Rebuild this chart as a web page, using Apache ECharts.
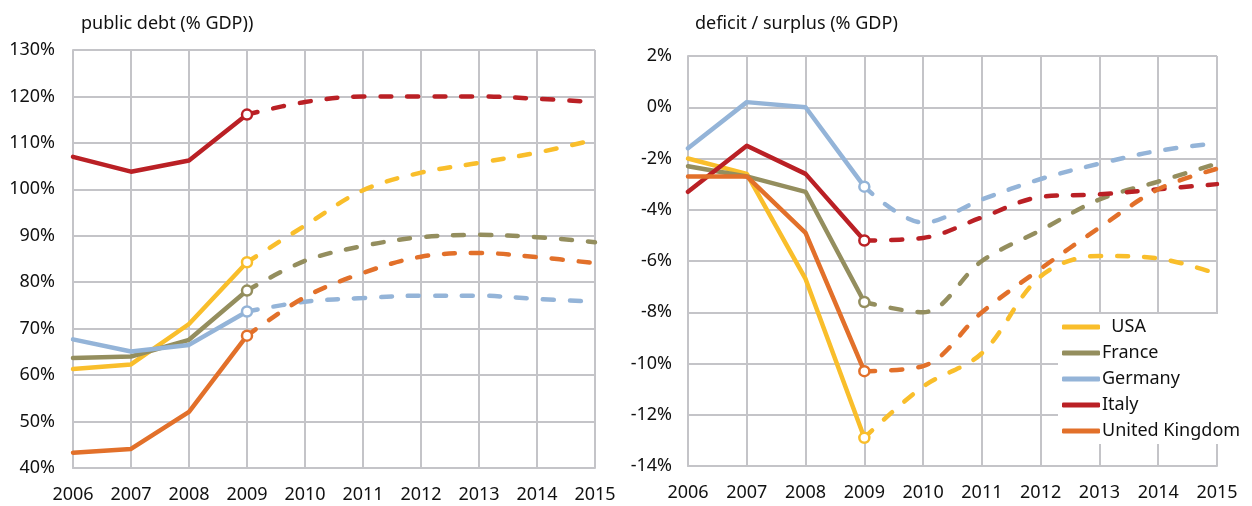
<!DOCTYPE html>
<html>
<head>
<meta charset="utf-8">
<script src="https://cdn.jsdelivr.net/npm/echarts@6/dist/echarts.min.js"></script>
<style>
  html, body { margin: 0; padding: 0; background: #fff; }
  #chart { width: 1252px; height: 506px; }
</style>
</head>
<body>
<div id="chart"></div>
<script>
const years = ["2006", "2007", "2008", "2009", "2010", "2011", "2012", "2013", "2014", "2015"];
const countries = ["USA", "France", "Germany", "Italy", "United Kingdom"];
const colors = ["#F9BE2B", "#948E5E", "#94B4D8", "#BA2025", "#E2702A"];

// public debt, % of GDP
const debtUSA = [61.3, 62.3, 71.0, 84.3, 92.2, 99.8, 103.6, 105.7, 107.9, 110.7];
const debtFrance = [63.7, 64.0, 67.6, 78.2, 84.6, 87.8, 89.7, 90.2, 89.7, 88.6];
const debtGermany = [67.7, 65.1, 66.5, 73.7, 75.8, 76.6, 77.1, 77.1, 76.4, 75.8];
const debtItaly = [107.0, 103.8, 106.2, 116.1, 118.8, 120.0, 120.0, 120.0, 119.5, 118.8];
const debtUK = [43.3, 44.1, 52.1, 68.5, 76.8, 82.0, 85.5, 86.3, 85.4, 84.1];

// deficit / surplus, % of GDP
const balUSA = [-2.0, -2.6, -6.7, -12.9, -10.9, -9.6, -6.6, -5.8, -5.9, -6.5];
const balFrance = [-2.3, -2.7, -3.3, -7.6, -8.0, -6.0, -4.8, -3.6, -2.9, -2.2];
const balGermany = [-1.6, 0.2, 0.0, -3.1, -4.5, -3.6, -2.8, -2.2, -1.7, -1.4];
const balItaly = [-3.3, -1.5, -2.6, -5.2, -5.1, -4.3, -3.5, -3.4, -3.2, -3.0];
const balUK = [-2.7, -2.7, -4.9, -10.3, -10.1, -8.0, -6.3, -4.7, -3.2, -2.4];

const debtData = [debtUSA, debtFrance, debtGermany, debtItaly, debtUK];
const balData = [balUSA, balFrance, balGermany, balItaly, balUK];

const lastActual = 3; // 2009: actual up to here, projection after
const gridColor = "#C4C4C8";
const font = "Noto Sans";

function makeSeries(values, idx, axisIdx) {
  const c = colors[idx];
  const solid = values.map((v, i) => (i <= lastActual ? v : "-"));
  const dashed = values.map((v, i) => {
    if (i < lastActual) return "-";
    if (i === lastActual) {
      return {
        value: v,
        symbol: "circle",
        symbolSize: 10,
        itemStyle: { color: "#fff", borderColor: c, borderWidth: 2.5 },
      };
    }
    return v;
  });
  return [
    {
      name: countries[idx],
      type: "line",
      xAxisIndex: axisIdx,
      yAxisIndex: axisIdx,
      data: solid,
      symbol: "none",
      color: c,
      lineStyle: { width: 4.5, color: c, cap: "round", join: "round" },
      animation: false,
      z: 2,
    },
    {
      name: countries[idx] + " (proj.)",
      type: "line",
      xAxisIndex: axisIdx,
      yAxisIndex: axisIdx,
      data: dashed,
      symbol: "none",
      showSymbol: true,
      smooth: 0.35,
      color: c,
      lineStyle: { width: 4.5, color: c, type: [11, 16], cap: "round" },
      animation: false,
      z: 3,
    },
  ];
}

const series = [];
debtData.forEach((vals, i) => series.push(...makeSeries(vals, i, 0)));
balData.forEach((vals, i) => series.push(...makeSeries(vals, i, 1)));

function xAxisCfg(gridIndex) {
  return {
    type: "category",
    gridIndex: gridIndex,
    data: years,
    boundaryGap: false,
    axisTick: { show: false },
    axisLine: { show: true, onZero: false, lineStyle: { color: gridColor, width: 2 } },
    splitLine: { show: true, lineStyle: { color: gridColor, width: 2 } },
    axisLabel: { color: "#111", fontFamily: font, fontSize: 18, margin: 18 },
  };
}

function yAxisCfg(gridIndex, min, max, interval, margin) {
  return {
    type: "value",
    gridIndex: gridIndex,
    min: min,
    max: max,
    interval: interval,
    axisTick: { show: false },
    axisLine: { show: true, lineStyle: { color: gridColor, width: 2 } },
    splitLine: { show: true, lineStyle: { color: gridColor, width: 2 } },
    axisLabel: {
      color: "#111",
      fontFamily: font,
      fontSize: 18,
      margin: margin,
      formatter: (v) => v + "%",
    },
  };
}

const option = {
  backgroundColor: "#fff",
  animation: false,
  title: [
    {
      text: "public debt (% GDP))",
      left: 76,
      top: 10,
      textStyle: { fontFamily: font, fontSize: 18, fontWeight: "normal", color: "#111" },
    },
    {
      text: "deficit / surplus (% GDP)",
      left: 690,
      top: 10,
      textStyle: { fontFamily: font, fontSize: 18, fontWeight: "normal", color: "#111" },
    },
  ],
  grid: [
    { left: 73, right: 657, top: 50, bottom: 38 },
    { left: 688, right: 35, top: 56, bottom: 40 },
  ],
  xAxis: [xAxisCfg(0), xAxisCfg(1)],
  yAxis: [yAxisCfg(0, 40, 130, 10, 18), yAxisCfg(1, -14, 2, 2, 16)],
  legend: {
    data: countries,
    orient: "vertical",
    left: 1058,
    top: 314,
    padding: [4, 4, 4, 4],
    backgroundColor: "#fff",
    icon: "roundRect",
    itemWidth: 38,
    itemHeight: 5,
    itemGap: 8,
    selectedMode: false,
    formatter: (name) => (name === "USA" ? "  USA" : name),
    textStyle: { fontFamily: font, fontSize: 18, color: "#111", padding: [0, 0, 0, -3] },
  },
  series: series,
};

const chart = echarts.init(document.getElementById("chart"));
chart.setOption(option);
</script>
</body>
</html>
